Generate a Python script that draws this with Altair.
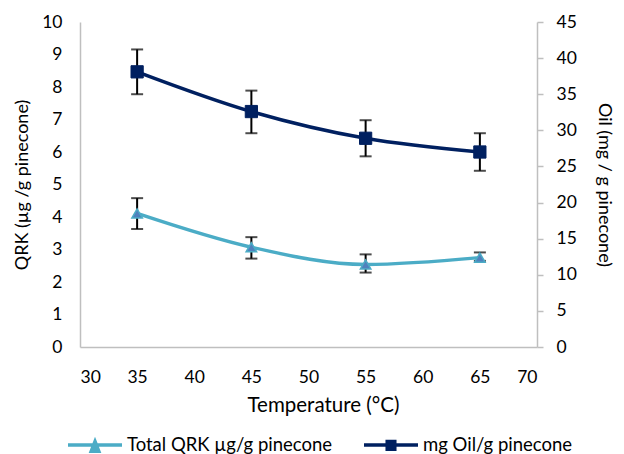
import altair as alt
import pandas as pd

# ---- data ----
temps = [35, 45, 55, 65]
qrk = [4.11, 3.07, 2.54, 2.75]
qrk_lo = [3.63, 2.72, 2.29, 2.65]
qrk_hi = [4.58, 3.38, 2.85, 2.91]
oil = [38.1, 32.6, 28.9, 27.0]
oil_lo = [35.0, 29.6, 26.4, 24.4]
oil_hi = [41.2, 35.5, 31.4, 29.6]

x_ticks = [30, 35, 40, 45, 50, 55, 60, 65, 70]
qrk_ticks = [0, 1, 2, 3, 4, 5, 6, 7, 8, 9, 10]
oil_ticks = [0, 5, 10, 15, 20, 25, 30, 35, 40, 45]

qrk_name = "Total QRK µg/g pinecone"
oil_name = "mg Oil/g pinecone"

FONT = "Lato"
TXT = "#000000"
AXC = "#bfbfbf"
LIGHT = "#4bacc6"
TRI_FILL = "#4f81bd"
NAVY = "#002060"
TICKFS = 17.5

qrk_df = pd.DataFrame({"T": temps, "v": qrk, "lo": qrk_lo, "hi": qrk_hi, "s": [qrk_name] * len(temps)})
oil_df = pd.DataFrame({"T": temps, "v": oil, "lo": oil_lo, "hi": oil_hi, "s": [oil_name] * len(temps)})

x_enc = alt.X(
    "T:Q",
    scale=alt.Scale(domain=[30, 70], nice=False, zero=False),
    axis=alt.Axis(values=x_ticks, title="Temperature (°C)", grid=False, ticks=False,
                  domainColor=AXC, domainWidth=1.5, labelPadding=21, titlePadding=10,
                  titleX=243,
                  labelFont=FONT, labelFontSize=TICKFS, labelColor=TXT,
                  titleFont=FONT, titleFontSize=20.5, titleFontWeight="normal", titleColor=TXT),
)

left_axis = alt.Axis(values=qrk_ticks, title="QRK (µg /g pinecone)", grid=False, ticks=False,
                     domainColor=AXC, domainWidth=1.5, labelPadding=18, titlePadding=10,
                     labelFont=FONT, labelFontSize=TICKFS, labelColor=TXT,
                     titleFont=FONT, titleFontSize=18, titleFontWeight="normal", titleColor=TXT)
right_axis = alt.Axis(values=oil_ticks, title="Oil (mg / g pinecone)", orient="right", grid=False,
                      ticks=True, tickSize=6, tickColor=AXC, tickWidth=1.5,
                      domainColor=AXC, domainWidth=1.5, labelPadding=13, titlePadding=18,
                      labelFont=FONT, labelFontSize=TICKFS, labelColor=TXT,
                      titleFont=FONT, titleFontSize=18, titleFontWeight="normal", titleColor=TXT)

left_scale = alt.Scale(domain=[0, 10], nice=False, zero=True)
right_scale = alt.Scale(domain=[0, 45], nice=False, zero=True)

TRI_PATH = "M-1,0H1M0,-0.13L0.14,0.23L-0.14,0.23Z"
SQ_PATH = "M-1,0H1M-0.14,-0.13H0.14V0.16H-0.14Z"


def group(df, scale, axis, name, channel, color, leg_path, leg_x, marker):
    base = alt.Chart(df)
    ylo = alt.Y("lo:Q", scale=scale, axis=axis)
    rule = base.mark_rule(color="black", strokeWidth=2).encode(
        x=x_enc, y=ylo, y2="hi:Q")
    cap_hi = base.mark_tick(color="black", orient="horizontal", size=12, thickness=2).encode(
        x=x_enc, y=alt.Y("hi:Q", scale=scale, axis=axis))
    cap_lo = base.mark_tick(color="black", orient="horizontal", size=12, thickness=2).encode(
        x=x_enc, y=ylo)
    legend = alt.Legend(title=None, orient="none", legendX=leg_x, legendY=394,
                        symbolType=leg_path, symbolSize=2916, symbolFillColor=color,
                        symbolStrokeWidth=3.5, labelFont=FONT, labelFontSize=18.5,
                        labelColor=TXT, labelOffset=3, labelLimit=400, padding=0)
    chan_cls = alt.Stroke if channel == "stroke" else alt.Color
    line = base.mark_line(strokeWidth=3.5, interpolate="monotone").encode(
        x=x_enc, y=alt.Y("v:Q", scale=scale, axis=axis),
        **{channel: chan_cls("s:N", scale=alt.Scale(domain=[name], range=[color]), legend=legend)})
    pts = base.mark_point(**marker, opacity=1).encode(
        x=x_enc, y=alt.Y("v:Q", scale=scale, axis=axis))
    return alt.layer(rule, cap_hi, cap_lo, line, pts)


left = group(qrk_df, left_scale, left_axis, qrk_name, "stroke", LIGHT, TRI_PATH, -14,
             dict(shape="triangle-up", size=110, filled=True, fill=TRI_FILL, stroke=LIGHT, strokeWidth=1.5))
right = group(oil_df, right_scale, right_axis, oil_name, "color", NAVY, SQ_PATH, 282,
              dict(shape="square", size=150, filled=True, fill=NAVY, stroke=NAVY, strokeWidth=1))

chart = alt.layer(left, right).resolve_scale(y="independent", color="independent", stroke="independent").properties(
    width=457, height=325,
    autosize=alt.AutoSizeParams(type="none"),
    padding={"left": 72, "top": 14, "right": 79, "bottom": 107},
).configure_view(stroke=None)

chart.save("out.html", embed_options={"renderer": "svg", "actions": False})
